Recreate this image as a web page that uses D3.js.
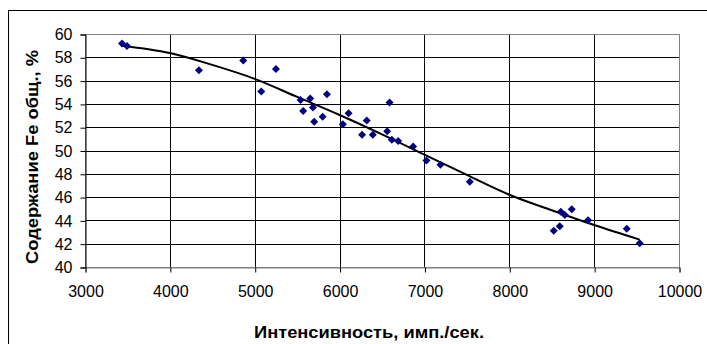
<!DOCTYPE html>
<html><head><meta charset="utf-8">
<script src="https://cdn.jsdelivr.net/npm/d3@7"></script>
<style>html,body{margin:0;padding:0;background:#fff;}svg{display:block;}</style>
</head><body>
<svg id="c" width="707" height="344"></svg>
<script>
// Data
const intensity = [3436,3495,4343,4865,5077,5250,5540,5654,5571,5686,5701,5800,5851,6039,6106,6265,6320,6392,6589,6561,6616,6690,6867,7024,7189,7535,8607,8654,8736,8524,8595,8928,9384,9537];
const feContent = [59.18,58.97,56.89,57.72,55.06,57.0,54.34,54.46,53.40,53.69,52.46,52.89,54.83,52.26,53.20,51.35,52.58,51.35,54.12,51.66,50.92,50.81,50.35,49.15,48.78,47.32,44.75,44.46,44.95,43.12,43.5,44.01,43.29,42.04];
const trendX = [3436,4000,4500,5000,5500,6000,6500,7000,7500,8000,8500,9000,9537];
const trendY = [59.0,58.37,57.35,56.15,54.6,53.05,51.39,49.65,47.9,46.2,44.87,43.6,42.35];
const xTicks = [3000,4000,5000,6000,7000,8000,9000,10000];
const yTicks = [40,42,44,46,48,50,52,54,56,58,60];
const xTitle = "Интенсивность, имп./сек.";
const yTitle = "Содержание Fe общ., %";

const svg = d3.select("#c");
const L = 85, R = 679, T = 34, B = 267;
const x = d3.scaleLinear().domain([3000,10000]).range([L,R]);
const y = d3.scaleLinear().domain([40,60]).range([B,T]);
const FONT = "Liberation Sans, Arial, sans-serif";

// outer chart border
svg.append("rect").attr("x",8.5).attr("y",10.5).attr("width",720).attr("height",400)
  .attr("fill","#fff").attr("stroke","#000").attr("stroke-width",1);

// gridlines
const g = svg.append("g");
g.selectAll("line.h").data(yTicks.filter(v=>v>40 && v<60)).join("line")
  .attr("x1",L).attr("x2",R).attr("y1",d=>Math.round(y(d))+0.5).attr("y2",d=>Math.round(y(d))+0.5)
  .attr("stroke","#000").attr("stroke-width",1);
g.selectAll("line.v").data(xTicks.filter(v=>v>3000 && v<10000)).join("line")
  .attr("y1",T).attr("y2",B).attr("x1",d=>Math.round(x(d))+0.5).attr("x2",d=>Math.round(x(d))+0.5)
  .attr("stroke","#000").attr("stroke-width",1);
// plot border
svg.append("rect").attr("x",L+0.5).attr("y",T+0.5).attr("width",R-L).attr("height",B-T)
  .attr("fill","none").attr("stroke","#808080").attr("stroke-width",1);

// axes
const xAxis = d3.axisBottom(x).tickValues(xTicks).tickSize(5).tickPadding(13).tickFormat(d3.format("d"));
const yAxis = d3.axisLeft(y).tickValues(yTicks).tickSize(5).tickPadding(8).tickFormat(d3.format("d"));
const gx = svg.append("g").attr("transform",`translate(0.5,${B+0.5})`).call(xAxis);
const gy = svg.append("g").attr("transform",`translate(${L+0.5},0.5)`).call(yAxis);
[gx,gy].forEach(a=>{
  a.select(".domain").attr("stroke","#000");
  a.selectAll(".tick line").attr("stroke","#000");
  a.selectAll("text").attr("font-family",FONT).attr("font-size",16).attr("fill","#000");
});
gx.select(".domain").attr("stroke","#808080");

// trend line
const tpts = trendX.map((v,i)=>[v,trendY[i]]);
svg.append("path").datum(tpts)
  .attr("d", d3.line().x(d=>x(d[0])).y(d=>y(d[1])).curve(d3.curveMonotoneX))
  .attr("fill","none").attr("stroke","#000").attr("stroke-width",2);

// points
const pts = intensity.map((v,i)=>[v,feContent[i]]);
const sym = d3.symbol().type(d3.symbolSquare).size(32);
svg.append("g").selectAll("path").data(pts).join("path")
  .attr("d",sym)
  .attr("transform",d=>`translate(${x(d[0])},${y(d[1])}) rotate(45)`)
  .attr("fill","#000080");

// titles
svg.append("text").attr("x",369).attr("y",338)
  .attr("text-anchor","middle").attr("font-family",FONT)
  .attr("font-size",16).attr("font-weight","bold")
  .attr("textLength",230).attr("lengthAdjust","spacingAndGlyphs").text(xTitle);
svg.append("text").attr("transform",`translate(37.5,157) rotate(-90)`)
  .attr("text-anchor","middle").attr("font-family",FONT)
  .attr("font-size",16).attr("font-weight","bold")
  .attr("textLength",214).attr("lengthAdjust","spacingAndGlyphs").text(yTitle);
</script>
</body></html>
